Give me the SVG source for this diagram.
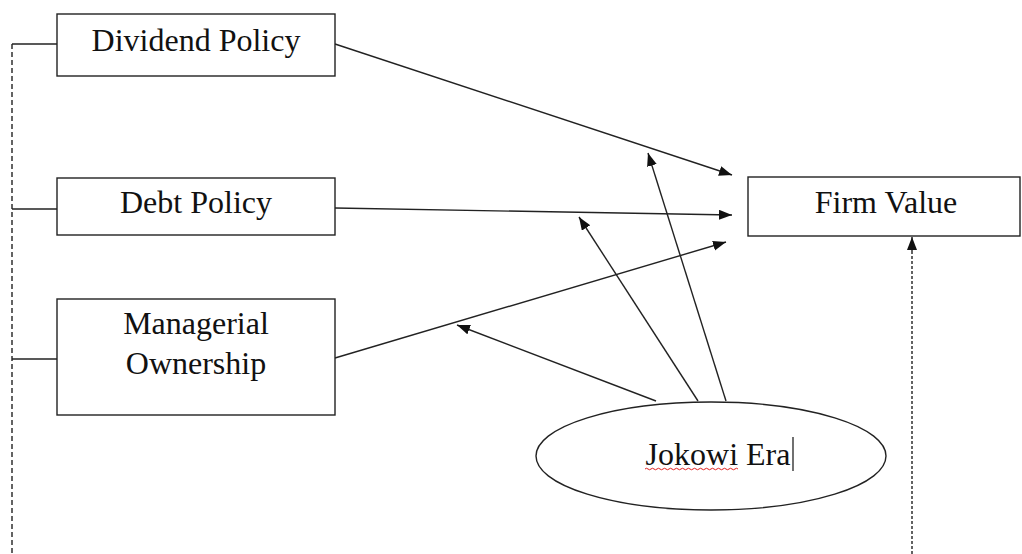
<svg xmlns="http://www.w3.org/2000/svg" width="1022" height="554" viewBox="0 0 1022 554">
<style>
.box{fill:#fff;stroke:#222;stroke-width:1.4}
.lbl{font-family:"Liberation Serif","Times New Roman",serif;font-size:32px;fill:#111;text-anchor:middle}
.ln{stroke:#222;stroke-width:1.4;fill:none}
.dash{stroke:#222;stroke-width:1.4;fill:none;stroke-dasharray:5 3}
.dash2{stroke:#222;stroke-width:1.4;fill:none;stroke-dasharray:3 2}
</style>
<defs>
<marker id="ah" markerUnits="userSpaceOnUse" markerWidth="15" markerHeight="11" refX="13" refY="5" orient="auto">
<path d="M0,0 L13,5 L0,10 z" fill="#111"/>
</marker>
</defs>
<rect width="1022" height="554" fill="#fff"/>
<g id="connectors">
<line class="dash" x1="12" y1="44" x2="12" y2="554"/>
<line class="ln" x1="12" y1="44" x2="57" y2="44"/>
<line class="ln" x1="12" y1="209" x2="57" y2="209"/>
<line class="ln" x1="12" y1="359" x2="57" y2="359"/>
<line class="dash2" x1="912" y1="554" x2="912" y2="250"/>
<line class="ln" x1="912" y1="251" x2="912" y2="237" marker-end="url(#ah)"/>
<line class="ln" x1="335" y1="44" x2="732" y2="175" marker-end="url(#ah)"/>
<line class="ln" x1="335" y1="208" x2="732" y2="215" marker-end="url(#ah)"/>
<line class="ln" x1="335" y1="358" x2="726" y2="242" marker-end="url(#ah)"/>
<line class="ln" x1="656" y1="401" x2="457" y2="325" marker-end="url(#ah)"/>
<line class="ln" x1="698" y1="401" x2="579" y2="217" marker-end="url(#ah)"/>
<line class="ln" x1="726" y1="401" x2="648" y2="153" marker-end="url(#ah)"/>
</g>
<g id="dividend">
<rect class="box" x="57" y="14" width="278" height="62"/>
<text class="lbl" x="196" y="51">Dividend Policy</text>
</g>
<g id="debt">
<rect class="box" x="57" y="178" width="278" height="57"/>
<text class="lbl" x="196" y="213">Debt Policy</text>
</g>
<g id="managerial">
<rect class="box" x="57" y="299" width="278" height="116"/>
<text class="lbl" x="196" y="334">Managerial</text>
<text class="lbl" x="196" y="374">Ownership</text>
</g>
<g id="firmvalue">
<rect class="box" x="748" y="177" width="272" height="59"/>
<text class="lbl" x="886" y="213">Firm Value</text>
</g>
<g id="jokowi">
<ellipse class="box" cx="711" cy="456" rx="175" ry="54"/>
<text class="lbl" x="718" y="465">Jokowi Era</text>
<path d="M645,469 q1.5,-1.5 3,0 t3,0 t3,0 t3,0 t3,0 t3,0 t3,0 t3,0 t3,0 t3,0 t3,0 t3,0 t3,0 t3,0 t3,0 t3,0 t3,0 t3,0 t3,0 t3,0 t3,0 t3,0 t3,0 t3,0 t3,0 t3,0 t3,0 t3,0 t3,0 t3,0 t3,0" fill="none" stroke="#e02020" stroke-width="1"/>
<line x1="793" y1="437" x2="793" y2="471" stroke="#111" stroke-width="1.2"/>
</g>
</svg>
